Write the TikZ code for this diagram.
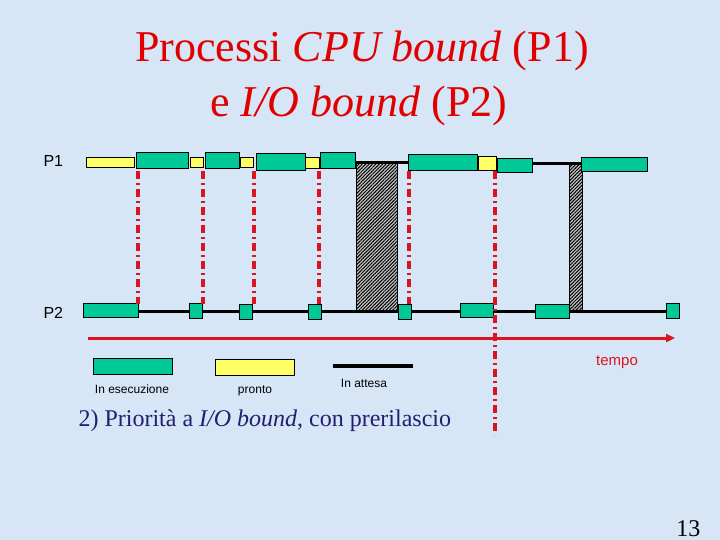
\documentclass[tikz,border=0pt]{standalone}
\usepackage{fontspec}
\setmainfont{Liberation Serif}
\setsansfont{Liberation Sans}
\usetikzlibrary{arrows.meta,patterns.meta}
\definecolor{slideblue}{HTML}{D6E6F6}
\definecolor{rungreen}{HTML}{00C896}
\definecolor{readyyellow}{HTML}{FFFF66}
\definecolor{titlered}{HTML}{E00000}
\definecolor{cutred}{HTML}{DC1420}
\definecolor{navytext}{HTML}{20206E}

\begin{document}
\begin{tikzpicture}[x=1pt, y=-1pt,
  box/.style={draw=black, line width=0.9pt, inner sep=0pt, anchor=north west},
  run/.style={box, fill=rungreen},
  ready/.style={box, fill=readyyellow},
  waiting/.style={line width=3.2pt},
  preempt/.style={cutred, line width=3.4pt, dash pattern=on 8pt off 4pt on 2pt off 4pt},
  iowait/.style={draw=black, line width=0.7pt, fill=gray!45,
    postaction={pattern={Lines[angle=45, distance=2.4pt, line width=1pt]}, pattern color=black}},
  lbl/.style={font=\sffamily\fontsize{16}{18}\selectfont, anchor=base west},
  leg/.style={font=\sffamily\fontsize{12}{14}\selectfont, anchor=base}]

  \fill[slideblue] (0,0) rectangle (720,540);
  \useasboundingbox (0,0) rectangle (720,540);

  % title
  \node[titlered, anchor=base, font=\fontsize{44}{50}\selectfont] (title1) at (362,62)
    {Processi \textit{CPU bound} (P1)};
  \node[titlered, anchor=base, font=\fontsize{44}{50}\selectfont] (title2) at (359,117)
    {e \textit{I/O bound} (P2)};

  \node[lbl] (P1) at (40,167) {P1};
  \node[lbl] (P2) at (40,318) {P2};

  % I/O of P1
  \draw[iowait] (356,162) rectangle (397,310);
  \draw[iowait] (569,163) rectangle (582,311);

  % P1
  \node[ready, minimum width=48pt, minimum height=10pt] (Y1) at (86,157) {};
  \node[run,   minimum width=52pt, minimum height=16pt] (G1) at (136,152) {};
  \node[ready, minimum width=13pt, minimum height=10pt] (Y2) at (190,157) {};
  \node[run,   minimum width=34pt, minimum height=16pt] (G2) at (205,152) {};
  \node[ready, minimum width=13pt, minimum height=10pt] (Y3) at (240,157) {};
  \node[run,   minimum width=49pt, minimum height=17pt] (G3) at (256,153) {};
  \node[ready, minimum width=14pt, minimum height=11pt] (Y4) at (305,157) {};
  \node[run,   minimum width=35pt, minimum height=16pt] (G4) at (320,152) {};
  \node[run,   minimum width=69pt, minimum height=16pt] (G5) at (408,154) {};
  \node[ready, minimum width=18pt, minimum height=14pt] (Y5) at (478,156) {};
  \node[run,   minimum width=35pt, minimum height=14pt] (G6) at (497,158) {};
  \node[run,   minimum width=66pt, minimum height=14pt] (G7) at (581,157) {};
  \draw[waiting] (G5.west -| G4.east) -- (G5.west);
  \draw[waiting] ([yshift=2pt]G6.east) -- ([yshift=2pt]G6.east -| G7.west);

  % P2
  \node[run, minimum width=55pt, minimum height=14pt] (B1) at (83,303) {};
  \node[run, minimum width=13pt, minimum height=15pt] (B8) at (666,303) {};
  \draw[waiting] ([yshift=-1pt]B1.east) -- ([yshift=-1pt]B1.east -| B8.west);
  \node[run, minimum width=13pt, minimum height=15pt] (B2) at (189,303) {};
  \node[run, minimum width=13pt, minimum height=15pt] (B3) at (239,304) {};
  \node[run, minimum width=13pt, minimum height=15pt] (B4) at (308,304) {};
  \node[run, minimum width=13pt, minimum height=15pt] (B5) at (398,304) {};
  \node[run, minimum width=33pt, minimum height=14pt] (B6) at (460,303) {};
  \node[run, minimum width=34pt, minimum height=14pt] (B7) at (535,304) {};

  % preemptions
  \foreach \x in {138,203,254,319,409}
    \draw[preempt] (\x,171) -- (\x,304);
  \draw[preempt] (495,171) -- (495,435);

  % time axis
  \coordinate (T0) at (88,338);
  \coordinate (T1) at (675,338);
  \draw[cutred, line width=3pt, -{Triangle[length=9pt, width=8pt]}] (T0) -- (T1);
  \node[cutred, anchor=base, font=\sffamily\fontsize{15}{17}\selectfont] (tempo) at (617,365) {tempo};

  % legend
  \node[run,   minimum width=79pt, minimum height=16pt] (Lrun) at (93,358) {};
  \node[ready, minimum width=79pt, minimum height=16pt] (Lready) at (215,359) {};
  \coordinate (Lw0) at (333,366);
  \coordinate (Lw1) at (413,366);
  \draw[waiting] (Lw0) -- (Lw1);
  \node[leg] at (132,393) {In esecuzione};
  \node[leg] at (255,393) {pronto};
  \node[leg] at (364,387) {In attesa};

  \node[navytext, anchor=base west, font=\fontsize{24}{28}\selectfont] (note) at (75,426)
    {2) Priorità a \textit{I/O bound}, con prerilascio};
  \node[anchor=base east, font=\fontsize{24}{28}\selectfont] (page) at (704,536) {13};
\end{tikzpicture}
\end{document}
